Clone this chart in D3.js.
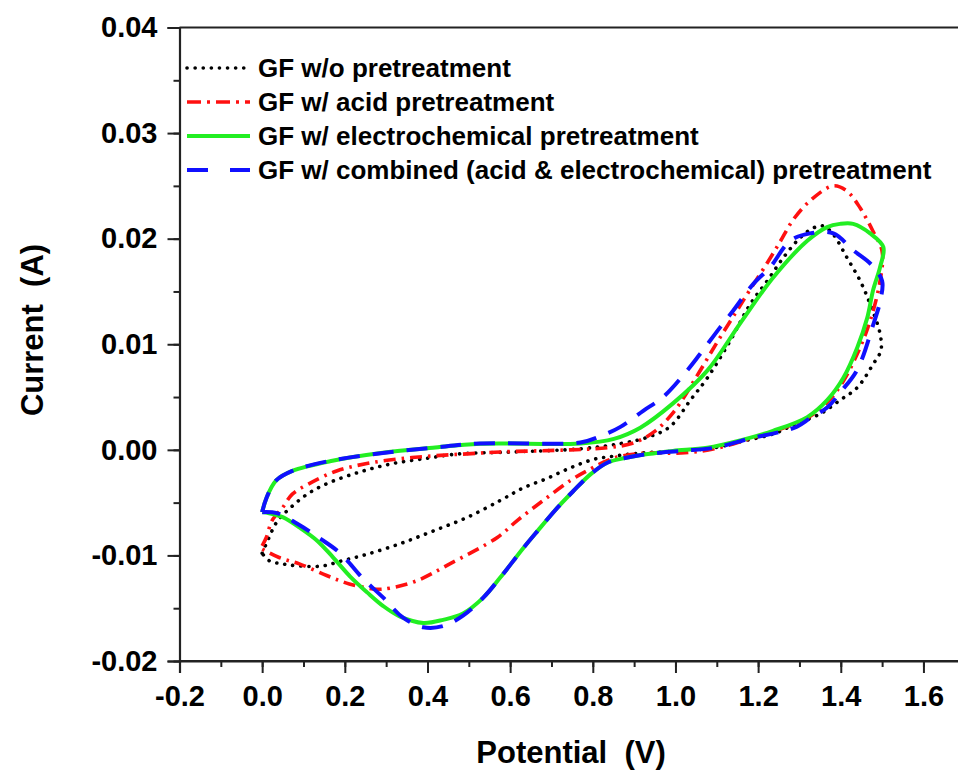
<!DOCTYPE html>
<html>
<head>
<meta charset="utf-8">
<script src="https://cdn.jsdelivr.net/npm/d3@7"></script>
<style>
  body { margin: 0; background: #fff; }
  text { font-family: Arial, "Liberation Sans", sans-serif; font-weight: bold; fill: #000; }
</style>
</head>
<body>
<div id="chart"></div>
<script>
// CV loops, [potential (V), current (A)], forward sweep then reverse
const noPretreatment = [
  [0, -0.0098], [0.010, -0.0089], [0.036, -0.0068], [0.068, -0.0055], [0.109, -0.0042],
  [0.157, -0.0032], [0.236, -0.0021], [0.316, -0.0013], [0.399, -0.0008], [0.471, -0.0004],
  [0.608, -0.0002], [0.770, 0.0001], [0.868, 0.0006], [0.933, 0.0012], [0.987, 0.0022],
  [1.036, 0.0047], [1.077, 0.0068], [1.132, 0.0103], [1.181, 0.0138], [1.222, 0.0160],
  [1.261, 0.0182], [1.302, 0.0201], [1.333, 0.0210], [1.357, 0.0212], [1.380, 0.0205],
  [1.415, 0.0182], [1.447, 0.0160], [1.471, 0.0138], [1.495, 0.0110], [1.497, 0.0094],
  [1.478, 0.0081], [1.440, 0.0059], [1.398, 0.0047], [1.350, 0.0034], [1.294, 0.0025],
  [1.236, 0.0015], [1.160, 0.0008], [1.094, 0.0002], [1.013, -0.0001], [0.916, -0.0003],
  [0.851, -0.0006], [0.802, -0.0009], [0.746, -0.0017], [0.690, -0.0027], [0.632, -0.0036],
  [0.576, -0.0048], [0.496, -0.0064], [0.413, -0.0077], [0.333, -0.0089], [0.253, -0.0099],
  [0.194, -0.0105], [0.146, -0.0110], [0.090, -0.0110], [0.049, -0.0108], [0.017, -0.0105],
  [0, -0.0098]
]

const acidPretreatment = [
  [0, -0.0091], [0.010, -0.0083], [0.024, -0.0067], [0.049, -0.0055], [0.073, -0.0042],
  [0.114, -0.0032], [0.180, -0.0020], [0.253, -0.0013], [0.333, -0.00085], [0.413, -0.00057],
  [0.496, -0.00038], [0.576, -0.0002], [0.746, 0.0], [0.836, 0.0002], [0.899, 0.00066],
  [0.948, 0.0017], [0.996, 0.0036], [1.052, 0.0070], [1.101, 0.0102], [1.149, 0.0132],
  [1.181, 0.0152], [1.222, 0.0177], [1.253, 0.0197], [1.285, 0.0218], [1.326, 0.0236],
  [1.382, 0.0250], [1.415, 0.0245], [1.447, 0.0229], [1.478, 0.0207], [1.500, 0.0188],
  [1.495, 0.0160], [1.471, 0.0122], [1.440, 0.0091], [1.406, 0.0065], [1.370, 0.0046],
  [1.322, 0.0031], [1.264, 0.0021], [1.200, 0.0013], [1.094, 0.0001], [1.013, -0.0003],
  [0.933, -0.0003], [0.868, -0.0006], [0.836, -0.0010], [0.795, -0.0018], [0.746, -0.0029],
  [0.680, -0.0048], [0.617, -0.0067], [0.569, -0.0083], [0.454, -0.0108], [0.374, -0.0124],
  [0.309, -0.0131], [0.277, -0.0132], [0.211, -0.0127], [0.156, -0.0119], [0.090, -0.0108],
  [0.041, -0.0102], [0, -0.0094]
]

const electrochemPretreatment = [
  [0, -0.0059], [0.010, -0.0046], [0.034, -0.0029], [0.073, -0.0020], [0.170, -0.00104],
  [0.292, -0.00028], [0.413, 0.0002], [0.527, 0.00057], [0.770, 0.0006], [0.851, 0.00104],
  [0.915, 0.0021], [0.994, 0.0044], [1.077, 0.0075], [1.157, 0.0120], [1.236, 0.0163],
  [1.319, 0.0198], [1.367, 0.0211], [1.398, 0.0214], [1.430, 0.0214], [1.471, 0.0205],
  [1.503, 0.0192], [1.495, 0.0173], [1.478, 0.0151], [1.464, 0.0125], [1.440, 0.0097],
  [1.406, 0.0068], [1.367, 0.0047], [1.319, 0.0031], [1.236, 0.0018], [1.157, 0.0009],
  [1.077, 0.0002], [0.994, -0.0001], [0.933, -0.0004], [0.875, -0.0008], [0.836, -0.0012],
  [0.795, -0.0023], [0.753, -0.0039], [0.714, -0.0055], [0.666, -0.0077], [0.632, -0.0093],
  [0.576, -0.0121], [0.535, -0.0140], [0.486, -0.0155], [0.438, -0.0161], [0.390, -0.0164],
  [0.334, -0.0158], [0.293, -0.0148], [0.254, -0.0135], [0.213, -0.0120], [0.172, -0.0102],
  [0.133, -0.0086], [0.092, -0.0074], [0.051, -0.0064], [0.017, -0.0060], [0, -0.0059]
]

const combinedPretreatment = [
  [0, -0.0059], [0.010, -0.0046], [0.034, -0.0029], [0.073, -0.0020], [0.170, -0.0010],
  [0.292, -0.0003], [0.413, 0.0002], [0.527, 0.0006], [0.770, 0.0007], [0.819, 0.0013],
  [0.868, 0.0022], [0.922, 0.0037], [0.970, 0.0050], [1.028, 0.0075], [1.060, 0.0091],
  [1.108, 0.0116], [1.140, 0.0132], [1.188, 0.0157], [1.229, 0.0173], [1.278, 0.0198],
  [1.326, 0.0205], [1.382, 0.0205], [1.430, 0.0189], [1.475, 0.0175], [1.500, 0.0160],
  [1.496, 0.0142], [1.478, 0.0118], [1.440, 0.0076], [1.400, 0.0055], [1.367, 0.0040],
  [1.326, 0.0030], [1.294, 0.0022], [1.253, 0.0017], [1.183, 0.0011], [1.094, 0.0002],
  [1.013, -0.0001], [0.933, -0.0004], [0.875, -0.0008], [0.836, -0.0012], [0.795, -0.0023],
  [0.753, -0.0039], [0.714, -0.0055], [0.666, -0.0077], [0.632, -0.0093], [0.576, -0.0121],
  [0.535, -0.0140], [0.486, -0.0157], [0.437, -0.0167], [0.390, -0.0168], [0.341, -0.0159],
  [0.293, -0.0140], [0.244, -0.0122], [0.189, -0.0098], [0.140, -0.0084], [0.085, -0.0070],
  [0.036, -0.0060], [0, -0.0059]
]

const seriesNames = [
  'GF w/o pretreatment',
  'GF w/ acid pretreatment',
  'GF w/ electrochemical pretreatment',
  'GF w/ combined (acid & electrochemical) pretreatment'
]
const seriesColors = ['#000000', '#ff1010', '#22ee22', '#1010ff']
const seriesDash = ['0.1 8', '12 6 2.5 6', null, '21 13']
const seriesWidth = [3.6, 3.6, 4, 4]

const potentialTicks = [-0.2, 0.0, 0.2, 0.4, 0.6, 0.8, 1.0, 1.2, 1.4, 1.6]
const currentTicks = [-0.02, -0.01, 0.00, 0.01, 0.02, 0.03, 0.04]

const width = 958, height = 772
const plotLeft = 179.5, plotTop = 27.5, plotBottom = 661

const x = d3.scaleLinear().domain([-0.2, 1.7]).range([plotLeft, plotLeft + 413.3 * 1.9])
const y = d3.scaleLinear().domain([-0.02, 0.04]).range([plotBottom, plotTop])

const svg = d3.select('#chart').append('svg')
  .attr('width', width)
  .attr('height', height)

svg.append('rect').attr('width', width).attr('height', height).attr('fill', '#fff')

// frame (right side is cut off by the picture edge)
svg.append('line')
  .attr('x1', plotLeft).attr('x2', width).attr('y1', plotTop).attr('y2', plotTop)
  .attr('stroke', '#222').attr('stroke-width', 2)

// minor ticks
const xMinor = d3.range(-0.2, 1.71, 0.1).map(d => +d.toFixed(2))
const yMinor = d3.range(-0.02, 0.0401, 0.005).map(d => +d.toFixed(3))

const xAxis = d3.axisBottom(x).tickValues(potentialTicks).tickFormat(d => d.toFixed(1)).tickSize(12).tickPadding(12)
const yAxis = d3.axisLeft(y).tickValues(currentTicks).tickFormat(d => d.toFixed(2)).tickSize(12).tickPadding(10)

svg.append('g')
  .attr('transform', 'translate(0,' + plotBottom + ')')
  .call(d3.axisBottom(x).tickValues(xMinor).tickFormat('').tickSize(6))
  .call(g => g.select('.domain').remove())
  .selectAll('line').attr('stroke', '#222').attr('stroke-width', 2)

svg.append('g')
  .attr('transform', 'translate(' + plotLeft + ',0)')
  .call(d3.axisLeft(y).tickValues(yMinor).tickFormat('').tickSize(6))
  .call(g => g.select('.domain').remove())
  .selectAll('line').attr('stroke', '#222').attr('stroke-width', 2)

const gx = svg.append('g')
  .attr('transform', 'translate(0,' + plotBottom + ')')
  .call(xAxis)
gx.select('.domain').attr('stroke', '#222').attr('stroke-width', 2.2)
gx.selectAll('line').attr('stroke', '#222').attr('stroke-width', 2)
gx.selectAll('text').attr('font-size', 29).attr('font-family', 'Arial, Liberation Sans').attr('font-weight', 'bold').attr('fill', '#000')

const gy = svg.append('g')
  .attr('transform', 'translate(' + plotLeft + ',0)')
  .call(yAxis)
gy.select('.domain').attr('stroke', '#222').attr('stroke-width', 2.2)
gy.selectAll('line').attr('stroke', '#222').attr('stroke-width', 2)
gy.selectAll('text').attr('font-size', 29).attr('font-family', 'Arial, Liberation Sans').attr('font-weight', 'bold').attr('fill', '#000')

// extend bottom axis line to the right edge
svg.append('line')
  .attr('x1', plotLeft).attr('x2', width).attr('y1', plotBottom).attr('y2', plotBottom)
  .attr('stroke', '#222').attr('stroke-width', 2.2)

// axis titles
svg.append('text')
  .attr('x', 571).attr('y', 763)
  .attr('text-anchor', 'middle')
  .attr('font-size', 31)
  .attr('xml:space', 'preserve')
  .text('Potential  (V)')

svg.append('text')
  .attr('transform', 'translate(43,330) rotate(-90)')
  .attr('text-anchor', 'middle')
  .attr('font-size', 31)
  .attr('xml:space', 'preserve')
  .text('Current  (A)')

// curves
const line = d3.line()
  .x(d => x(d[0]))
  .y(d => y(d[1]))
  .curve(d3.curveCatmullRom.alpha(0.5))

const allSeries = [noPretreatment, acidPretreatment, electrochemPretreatment, combinedPretreatment]

allSeries.forEach(function (data, i) {
  svg.append('path')
    .datum(data)
    .attr('d', line)
    .attr('fill', 'none')
    .attr('stroke', seriesColors[i])
    .attr('stroke-width', seriesWidth[i])
    .attr('stroke-linecap', i === 0 ? 'round' : 'butt')
    .attr('stroke-linejoin', 'round')
    .attr('stroke-dasharray', seriesDash[i])
})

// legend
const legend = svg.append('g').attr('transform', 'translate(187,68)')
seriesNames.forEach(function (name, i) {
  const row = legend.append('g').attr('transform', 'translate(0,' + i * 34 + ')')
  row.append('line')
    .attr('x1', 0).attr('x2', 63).attr('y1', 0).attr('y2', 0)
    .attr('stroke', seriesColors[i])
    .attr('stroke-width', seriesWidth[i])
    .attr('stroke-linecap', i === 0 ? 'round' : 'butt')
    .attr('stroke-dasharray', i === 3 ? '21 22' : (i === 1 ? '14 6 3 6' : seriesDash[i]))
  row.append('text')
    .attr('x', 71).attr('y', 0)
    .attr('dy', '0.35em')
    .attr('font-size', 26)
    .text(name)
})
</script>
</body>
</html>
